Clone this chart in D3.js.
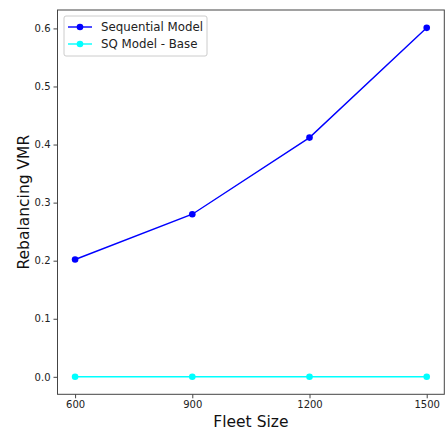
<!DOCTYPE html>
<html>
<head>
<meta charset="utf-8">
<script src="https://cdn.jsdelivr.net/npm/d3@7"></script>
<style>
  html, body { margin: 0; padding: 0; background: #fff; }
  svg { display: block; font-family: "DejaVu Sans", sans-serif; }
</style>
</head>
<body>
<svg id="chart" width="445" height="430"></svg>
<script>
const fleetSizes = [600, 900, 1200, 1500];
const sequentialModel = [0.202, 0.280, 0.412, 0.601];
const sqModelBase = [0.0, 0.0, 0.0, 0.0];
const seriesNames = ["Sequential Model", "SQ Model - Base"];
const seriesColors = ["#0000ff", "#00ffff"];
const yTicks = [0.0, 0.1, 0.2, 0.3, 0.4, 0.5, 0.6];
const xLabel = "Fleet Size";
const yLabel = "Rebalancing VMR";

const svg = d3.select("#chart");
const plotL = 57.5, plotR = 444.3, plotT = 10, plotB = 394.3;

const x = d3.scaleLinear().domain([555, 1545]).range([plotL, plotR]);
const y = d3.scaleLinear().domain([-0.0301, 0.6317]).range([plotB, plotT]);

// axes frame
svg.append("rect")
  .attr("x", plotL).attr("y", plotT)
  .attr("width", plotR - plotL).attr("height", plotB - plotT)
  .attr("fill", "none").attr("stroke", "#444").attr("stroke-width", 1);

const xAxis = svg.append("g").attr("transform", `translate(0,${plotB})`)
  .call(d3.axisBottom(x).tickValues(fleetSizes).tickFormat(d3.format("d")).tickSize(4).tickPadding(3));
const yAxis = svg.append("g").attr("transform", `translate(${plotL},0)`)
  .call(d3.axisLeft(y).tickValues(yTicks).tickFormat(d3.format(".1f")).tickSize(4).tickPadding(3));
[xAxis, yAxis].forEach(g => {
  g.select(".domain").remove();
  g.selectAll(".tick line").attr("stroke", "#444");
  g.selectAll(".tick text").attr("fill", "#222").style("font-size", "10px").style("font-family", "DejaVu Sans");
});

const series = [sequentialModel, sqModelBase];
const line = d3.line().x((d, i) => x(fleetSizes[i])).y(d => y(d));

series.forEach((vals, si) => {
  const g = svg.append("g");
  g.append("path").datum(vals).attr("d", line)
    .attr("fill", "none").attr("stroke", seriesColors[si]).attr("stroke-width", 1.4);
  g.selectAll("circle").data(vals).join("circle")
    .attr("cx", (d, i) => x(fleetSizes[i])).attr("cy", d => y(d))
    .attr("r", 3.3).attr("fill", seriesColors[si]);
});

// axis labels
svg.append("text").attr("x", (plotL + plotR) / 2).attr("y", 427)
  .attr("text-anchor", "middle").style("font-size", "15.5px").attr("fill", "#111").text(xLabel);
svg.append("text").attr("transform", `translate(28.5,${(plotT + plotB) / 2}) rotate(-90)`)
  .attr("text-anchor", "middle").style("font-size", "15.5px").attr("fill", "#111").text(yLabel);

// legend
const lg = svg.append("g");
lg.append("rect").attr("x", 64).attr("y", 16).attr("width", 143).attr("height", 40)
  .attr("rx", 2).attr("fill", "#fff").attr("fill-opacity", 0.8)
  .attr("stroke", "#ccc").attr("stroke-width", 1);
seriesNames.forEach((name, i) => {
  const cy = 27 + i * 17;
  lg.append("line").attr("x1", 68).attr("x2", 92).attr("y1", cy).attr("y2", cy)
    .attr("stroke", seriesColors[i]).attr("stroke-width", 1.4);
  lg.append("circle").attr("cx", 80).attr("cy", cy).attr("r", 3.3).attr("fill", seriesColors[i]);
  lg.append("text").attr("x", 101).attr("y", cy + 4.3).style("font-size", "11.8px")
    .attr("fill", "#222").text(name);
});
</script>
</body>
</html>
